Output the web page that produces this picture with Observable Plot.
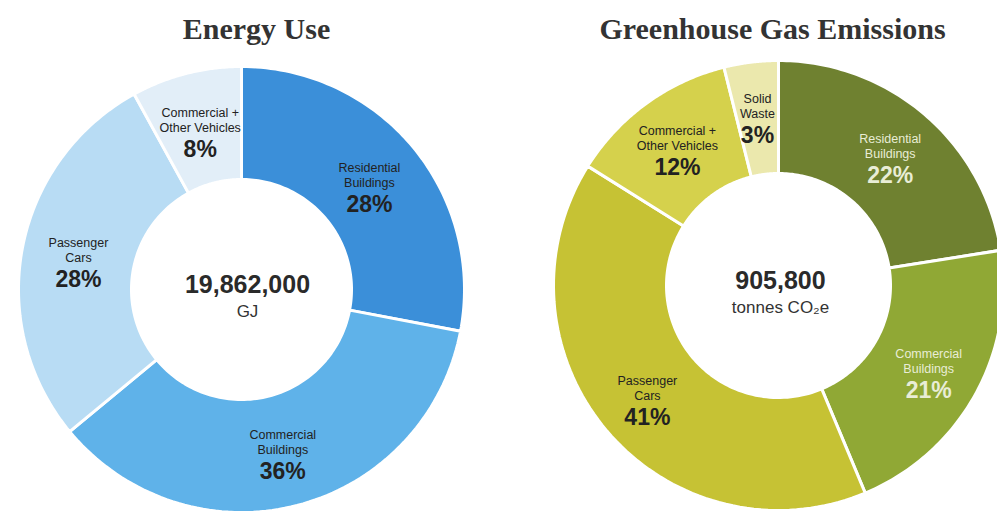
<!DOCTYPE html>
<html>
<head>
<meta charset="utf-8">
<script src="https://cdn.jsdelivr.net/npm/d3@7"></script>
<script src="https://cdn.jsdelivr.net/npm/@observablehq/plot@0.6"></script>
<style>
  html, body { margin: 0; padding: 0; background: #ffffff; }
  #chart svg { display: block; }
</style>
</head>
<body>
<div id="chart"></div>
<script>
// ---------- data ----------
const titles = ["Energy Use", "Greenhouse Gas Emissions"];

const energyCategories = ["Residential\nBuildings", "Commercial\nBuildings", "Passenger\nCars", "Commercial +\nOther Vehicles"];
const energyValues = [28, 36, 28, 8];                 // slice shares (%)
const energyLabels = ["28%", "36%", "28%", "8%"];     // printed labels
const energyColors = ["#3b8fd9", "#5fb2e9", "#b8dcf4", "#e2eef8"];
const energyTextColors = ["#222", "#222", "#222", "#222"];
const energyTotal = "19,862,000";
const energyUnit = "GJ";

const ghgCategories = ["Residential\nBuildings", "Commercial\nBuildings", "Passenger\nCars", "Commercial +\nOther Vehicles", "Solid\nWaste"];
const ghgValues = [22.5, 21.2, 40.2, 12.2, 3.9];      // slice shares as drawn (%)
const ghgLabels = ["22%", "21%", "41%", "12%", "3%"]; // printed labels
const ghgColors = ["#6f8130", "#90a835", "#c6c234", "#d5d14c", "#ebe8ad"];
const ghgTextColors = ["#e9edd6", "#e9edd6", "#222", "#222", "#222"];
const ghgTotal = "905,800";
const ghgUnit = "tonnes CO\u2082e";

// ---------- layout ----------
const W = 997, H = 514;
const donuts = [
  {name: "energy", cats: energyCategories, vals: energyValues, labs: energyLabels, cols: energyColors, tcols: energyTextColors,
   total: energyTotal, unit: energyUnit, cx: 241, cy: 289, r0: 110, r1: 223, lr: 166, tx: 6},
  {name: "ghg", cats: ghgCategories, vals: ghgValues, labs: ghgLabels, cols: ghgColors, tcols: ghgTextColors,
   total: ghgTotal, unit: ghgUnit, cx: 778, cy: 285, r0: 112, r1: 225, lr: 172, tx: 2}
];
const titlePos = [{x: 256, y: 38}, {x: 772, y: 38}];

const polys = [], labels = [], centers = [];
for (const dn of donuts) {
  const arcs = d3.pie().sort(null).startAngle(0).endAngle(2 * Math.PI)(dn.vals);
  arcs.forEach((a, i) => {
    const key = dn.name + i;
    const n = 80;
    for (let k = 0; k <= n; k++) {
      const t = a.startAngle + (a.endAngle - a.startAngle) * k / n;
      polys.push({key, color: dn.cols[i], x: dn.cx + dn.r1 * Math.sin(t), y: dn.cy - dn.r1 * Math.cos(t)});
    }
    for (let k = n; k >= 0; k--) {
      const t = a.startAngle + (a.endAngle - a.startAngle) * k / n;
      polys.push({key, color: dn.cols[i], x: dn.cx + dn.r0 * Math.sin(t), y: dn.cy - dn.r0 * Math.cos(t)});
    }
    const m = (a.startAngle + a.endAngle) / 2;
    labels.push({
      x: dn.cx + dn.lr * Math.sin(m), y: dn.cy - dn.lr * Math.cos(m),
      cat: dn.cats[i], pct: dn.labs[i], color: dn.tcols[i]
    });
  });
  centers.push({x: dn.cx + dn.tx, y: dn.cy, total: dn.total, unit: dn.unit});
}
const titleData = titles.map((t, i) => ({t, x: titlePos[i].x, y: titlePos[i].y}));

const sans = "'Liberation Sans', Arial, Helvetica, sans-serif";

const chart = Plot.plot({
  width: W, height: H, margin: 0,
  style: {background: "#ffffff"},
  x: {domain: [0, W], range: [0, W], axis: null},
  y: {domain: [0, H], range: [0, H], axis: null},
  color: {type: "identity"},
  marks: [
    Plot.line(polys, {x: "x", y: "y", z: "key", fill: "color", stroke: "#ffffff", strokeWidth: 3, curve: "linear-closed"}),
    Plot.text(labels, {x: "x", y: "y", text: "cat", fill: "color", dy: -9, fontSize: 12.5, lineHeight: 1.2,
      fontFamily: sans, lineAnchor: "middle"}),
    Plot.text(labels, {x: "x", y: "y", text: "pct", fill: "color", dy: 21, fontSize: 23, fontWeight: "bold",
      fontFamily: sans, lineAnchor: "middle"}),
    Plot.text(centers, {x: "x", y: "y", text: "total", fill: "#2a2a2a", dy: -5, fontSize: 25, fontWeight: "bold",
      fontFamily: sans, lineAnchor: "middle"}),
    Plot.text(centers, {x: "x", y: "y", text: "unit", fill: "#333", dy: 22, fontSize: 17,
      fontFamily: sans, lineAnchor: "middle"}),
    Plot.text(titleData, {x: "x", y: "y", text: "t", fill: "#333", fontSize: 30, fontWeight: "bold",
      fontFamily: "'Liberation Serif', 'Times New Roman', serif", lineAnchor: "bottom"})
  ]
});
document.getElementById("chart").appendChild(chart);
</script>
</body>
</html>
